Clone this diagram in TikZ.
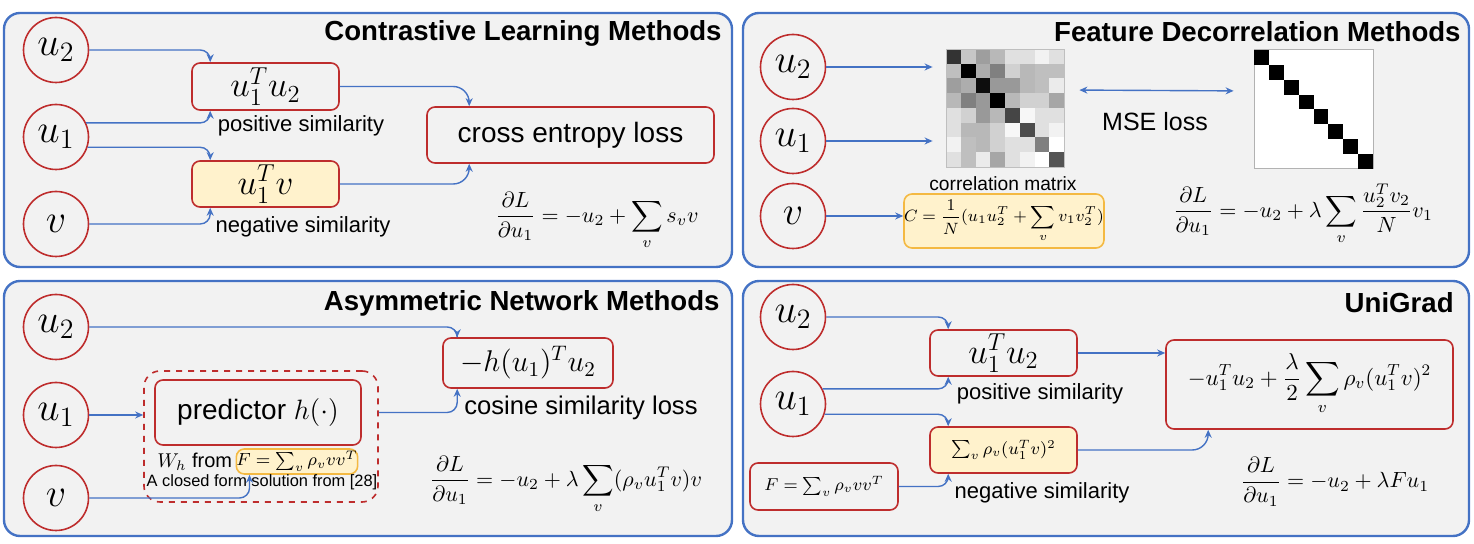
\RequirePackage{fix-cm}
\documentclass[tikz,border=0pt]{standalone}
\usepackage{amsmath}
\usepackage{fontspec}
\setmainfont{Liberation Sans}
\usetikzlibrary{arrows.meta,calc}
\definecolor{pblue}{RGB}{68,114,196}
\definecolor{pred}{RGB}{190,45,45}
\definecolor{pyel}{RGB}{255,242,204}
\definecolor{porange}{RGB}{244,185,66}
\definecolor{pbg}{RGB}{242,242,242}
\begin{document}
\begin{tikzpicture}[x=0.5pt,y=-0.5pt,
  panel/.style={draw=pblue,line width=1.2pt,fill=pbg,rounded corners=8pt},
  circ/.style={circle,draw=pred,line width=0.8pt,minimum size=32.5pt,inner sep=0pt,font=\fontsize{20}{20}\selectfont},
  rbox/.style={draw=pred,line width=0.8pt,rounded corners=4pt,inner sep=0pt},
  ybox/.style={rbox,fill=pyel},
  obox/.style={draw=porange,line width=0.8pt,fill=pyel,rounded corners=4pt,inner sep=0pt},
  arr/.style={draw=pblue,line width=0.7pt,-{Stealth[length=4pt,width=3.5pt]},rounded corners=5pt},
  ttl/.style={font=\fontsize{13.8}{15}\selectfont\bfseries,anchor=base east,inner sep=0pt},
  lab/.style={font=\fontsize{11}{12}\selectfont,inner sep=0pt},
  frm/.style={font=\fontsize{11}{13}\selectfont,inner sep=0pt},
]
\useasboundingbox (0,0) rectangle (1474,544);

% panels
\draw[panel] (4,13) rectangle (732,267);
\draw[panel] (743,13) rectangle (1469,267);
\draw[panel] (4,281) rectangle (732,536);
\draw[panel] (743,281) rectangle (1469,536);

% ---------------- Panel 1 ----------------
\node[ttl] (t1) at (722,41) {Contrastive Learning Methods};
\node[circ] (a2) at (56,50) {$u_2$};
\node[circ] (a1) at (56,137) {$u_1$};
\node[circ] (av) at (56,224) {$v$};
\node[rbox,minimum width=73.5pt,minimum height=23.5pt,font=\fontsize{17.5}{17.5}\selectfont] (apos) at (265.5,86.5) {$u_1^T u_2$};
\node[ybox,minimum width=73.5pt,minimum height=23pt,font=\fontsize{17.5}{17.5}\selectfont] (aneg) at (265.5,184) {$u_1^T v$};
\node[rbox,minimum width=143.5pt,minimum height=28pt,font=\fontsize{14}{15}\selectfont] (ace) at (570.5,135) {cross entropy loss};
\node[lab] (apl) at (301,126) {positive similarity};
\node[lab] (anl) at (303,227) {negative similarity};
\node[frm] (af) at (597,221) {$\displaystyle \frac{\partial L}{\partial u_1} = -u_2 + \sum_v s_v v$};
\draw[arr] (a2.east) -| ([xshift=9.5pt]apos.north west);
\draw[arr] (a1.25) -| ([xshift=9.5pt]apos.south west);
\draw[arr] (a1.-18) -| ([xshift=9.5pt]aneg.north west);
\draw[arr] (av.east) -| ([xshift=9.5pt]aneg.south west);
\draw[arr,rounded corners=8pt] (apos.east) -| ([xshift=21.5pt]ace.north west);
\draw[arr,rounded corners=8pt] (aneg.east) -| ([xshift=21.5pt]ace.south west);

% ---------------- Panel 2 ----------------
\node[ttl] (t2) at (1461,42) {Feature Decorrelation Methods};
\node[circ] (b2) at (793,67) {$u_2$};
\node[circ] (b1) at (793,141) {$u_1$};
\node[circ] (bv) at (793,216) {$v$};
\foreach \row [count=\r from 0] in {{20,78,62,72,88,88,95,88},{75,0,68,50,82,72,75,75},{62,68,5,60,60,72,75,92},{72,50,60,0,72,82,82,65},{88,82,60,72,27,97,88,88},{88,72,72,82,97,30,88,95},{95,75,72,82,88,88,50,100},{88,75,92,65,88,95,100,33}}{
  \foreach \v [count=\c from 0] in \row {
    \pgfmathtruncatemacro{\k}{100-\v}
    \fill[black!\k] (946+\c*14.75,49+\r*14.75) rectangle ++(14.75,14.75);
  }
}
\node[draw=black!25,line width=0.4pt,minimum size=59pt,inner sep=0pt] (corr) at (1005,108) {};
\node[font=\fontsize{9.6}{11}\selectfont,inner sep=0pt] (cml) at (1003,184) {correlation matrix};
\node[obox,minimum width=95pt,minimum height=27pt,font=\fontsize{8.2}{10}\selectfont] (cbox) at (1004,221) {$\displaystyle C = \frac{1}{N}(u_1 u_2^T + \sum_v v_1 v_2^T)$};
\node[fill=white,draw=black!30,line width=0.4pt,minimum size=59.5pt,inner sep=0pt] (ident) at (1313.5,109) {};
\foreach \i in {0,...,7}{
  \fill[black] (1254+\i*14.875,50+\i*14.875) rectangle ++(14.875,14.875);
}
\node[font=\fontsize{12.5}{14}\selectfont,inner sep=0pt] (mse) at (1155,122) {MSE loss};
\node[frm] (bf) at (1303,214) {$\displaystyle \frac{\partial L}{\partial u_1} = -u_2 + \lambda\sum_v \frac{u_2^T v_2}{N} v_1$};
\draw[arr,shorten >=6.5pt] (b2.east) -- (b2.east -| corr.west);
\draw[arr,shorten >=6.5pt] (b1.east) -- (b1.east -| corr.west);
\draw[arr] (bv.east) -- (bv.east -| cbox.west);
\draw[draw=pblue,line width=0.7pt,{Stealth[length=4pt,width=3.5pt]}-{Stealth[length=4pt,width=3.5pt]},shorten <=7.5pt,shorten >=10pt] ([yshift=9pt]corr.east) -- ([yshift=9pt]ident.west);

% ---------------- Panel 3 ----------------
\node[ttl] (t3) at (720,311) {Asymmetric Network Methods};
\node[circ] (c2) at (56,327) {$u_2$};
\node[circ] (c1) at (56,415) {$u_1$};
\node[circ] (cv) at (56,498) {$v$};
\node[draw=pred,dashed,line width=0.8pt,rounded corners=8pt,minimum width=117pt,minimum height=65.5pt,inner sep=0pt] (dash) at (261,436.5) {};
\node[rbox,minimum width=103pt,minimum height=32.5pt,font=\fontsize{14}{16}\selectfont] (pred) at (258,412.5) {predictor $h(\cdot)$};
\node[obox,minimum width=57pt,minimum height=12.5pt,font=\fontsize{8.8}{10}\selectfont] (fb3) at (297,461.5) {$F = \sum_v \rho_v v v^T$};
\node[anchor=east,inner sep=1.5pt,font=\fontsize{10}{12}\selectfont] (wh) at (fb3.west) {$W_h$ from};
\node[font=\fontsize{8.2}{10}\selectfont,inner sep=0pt] (cfs) at (262,482) {A closed form solution from [28]};
\node[rbox,minimum width=85pt,minimum height=25pt,font=\fontsize{15}{16}\selectfont] (loss3) at (528,363) {$-h(u_1)^T u_2$};
\node[font=\fontsize{12.8}{14}\selectfont,inner sep=0pt] (csl) at (581,408) {cosine similarity loss};
\node[frm] (cf) at (566,485) {$\displaystyle \frac{\partial L}{\partial u_1} = -u_2 + \lambda\sum_v (\rho_v u_1^T v) v$};
\draw[arr] (c2.east) -| ([xshift=7.5pt]loss3.north west);
\draw[arr] (c1.east) -- (c1.east -| dash.west);
\draw[arr] (pred.east -| dash.east) -| ([xshift=7.5pt]loss3.south west);
\draw[arr] (cv.east) -| ([xshift=7pt]fb3.south west);

% ---------------- Panel 4 ----------------
\node[ttl] (t4) at (1454,313) {UniGrad};
\node[circ] (d2) at (793,317) {$u_2$};
\node[circ] (d1) at (793,404) {$u_1$};
\node[rbox,minimum width=74pt,minimum height=23.5pt,font=\fontsize{8.6}{10}\selectfont] (fb4) at (824,486.5) {$F = \sum_v \rho_v v v^T$};
\node[rbox,minimum width=73.5pt,minimum height=23pt,font=\fontsize{17.5}{17.5}\selectfont] (dpos) at (1003.5,353) {$u_1^T u_2$};
\node[ybox,minimum width=73.5pt,minimum height=23pt,font=\fontsize{8.6}{10}\selectfont] (dneg) at (1003.5,450) {$\sum_v \rho_v (u_1^T v)^2$};
\node[rbox,minimum width=143.5pt,minimum height=44.5pt,font=\fontsize{11.5}{13}\selectfont] (big) at (1309.5,384.5) {$\displaystyle -u_1^T u_2 + \frac{\lambda}{2}\sum_v \rho_v (u_1^T v)^2$};
\node[lab] (dpl) at (1040,394) {positive similarity};
\node[lab] (dnl) at (1042,493) {negative similarity};
\node[frm] (df) at (1335,482) {$\displaystyle \frac{\partial L}{\partial u_1} = -u_2 + \lambda F u_1$};
\draw[arr] (d2.east) -| ([xshift=9.5pt]dpos.north west);
\draw[arr] (d1.27) -| ([xshift=9.5pt]dpos.south west);
\draw[arr] (d1.-18) -| ([xshift=9.5pt]dneg.north west);
\draw[arr] (fb4.east) -| ([xshift=9.5pt]dneg.south west);
\draw[arr] (dpos.east) -- (dpos.east -| big.west);
\draw[arr,rounded corners=8pt] (dneg.east) -| ([xshift=21.5pt]big.south west);
\end{tikzpicture}
\end{document}
